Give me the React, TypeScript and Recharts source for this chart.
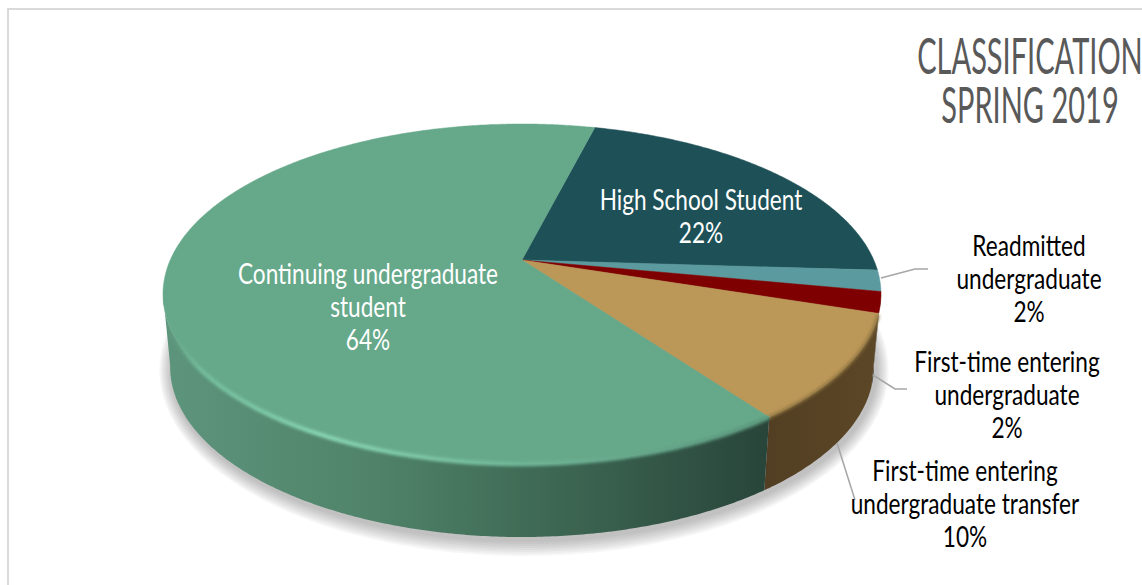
import React from 'react';
import { PieChart, Pie } from 'recharts';

// slices clockwise from the top boundary
const categories = [
  ['High School Student'],
  ['Readmitted', 'undergraduate'],
  ['First-time entering', 'undergraduate'],
  ['First-time entering', 'undergraduate transfer'],
  ['Continuing undergraduate', 'student'],
];
const shares = [22, 2, 2, 10, 64];
const titleLines = ['CLASSIFICATION', 'SPRING 2019'];

const topColors = ['#1e5157', '#5b9a9e', '#7f0000', '#bb9758', '#66a88a'];

const chartData = categories.map((lines, i) => ({
  name: lines.join(' '),
  lines,
  value: shares[i],
  fill: topColors[i],
}));

// pie geometry on the page
const CX = 522;
const CY = 294;
const RX = 359;
const RY = 170;
const PERSPECTIVE = 0.2; // how far the hub sits behind the ellipse centre
const DEPTH = 73;
const BOTTOM_SCALE = 0.98;
const START = 75.7;

const TEXT_FONT = 'Lato, "Open Sans", sans-serif';
const TEXT_SQUEEZE = 0.78;

const labelLayout = [
  { x: 701, y: 210, fill: '#ffffff' },
  { x: 1029, y: 256, fill: '#000000', leader: '881,278 915,269 928,269' },
  { x: 1007, y: 372, fill: '#000000', leader: '873,375 895,389 907,389' },
  { x: 965, y: 481, fill: '#000000', leader: '837,443 855,500' },
  { x: 368, y: 284, fill: '#ffffff' },
];

// rings of the soft shadow, widest first
const shadowRings = [16, 14, 12, 10, 8, 6, 4, 2];

const rad = (deg: number) => (deg * Math.PI) / 180;

// circle angle -> point on the unit ellipse, with the hub pushed back
function warp(deg: number) {
  const u = Math.cos(rad(deg));
  const v = Math.sin(rad(deg));
  const d = 1 + PERSPECTIVE * v;
  return {
    x: (u * Math.sqrt(1 - PERSPECTIVE * PERSPECTIVE)) / d,
    y: (v + PERSPECTIVE) / d,
  };
}

const topPoint = (deg: number) => {
  const p = warp(deg);
  return [CX + RX * p.x, CY - RY * p.y];
};
const bottomPoint = (deg: number) => {
  const p = warp(deg);
  return [CX + RX * BOTTOM_SCALE * p.x, CY + DEPTH - RY * p.y];
};

const fmt = (pts: number[][]) => pts.map((p) => `${p[0].toFixed(1)} ${p[1].toFixed(1)}`).join(' L ');

function anglesBetween(start: number, end: number) {
  const out: number[] = [];
  const step = start > end ? -0.5 : 0.5;
  for (let a = start; step < 0 ? a > end : a < end; a += step) out.push(a);
  out.push(end);
  return out;
}

function Slice(props: any) {
  const { startAngle, endAngle, index, fill } = props;
  const angles = anglesBetween(startAngle, endAngle);
  const top = angles.map(topPoint);
  const hub = [CX, CY - RY * PERSPECTIVE];
  const front = angles.filter((a) => warp(a).y <= 0.01);
  const rim = front.filter((a) => warp(a).y <= -0.12);
  const wallFill = index === 4 ? 'url(#wallGreen)' : index === 3 ? 'url(#wallBrown)' : '#3a3a30';

  return (
    <g>
      {front.length > 1 && (
        <path
          d={`M ${fmt(front.map(topPoint))} L ${fmt(front.slice().reverse().map(bottomPoint))} Z`}
          fill={wallFill}
        />
      )}
      <path d={`M ${fmt([hub, ...top])} Z`} fill={fill} stroke={fill} strokeWidth={0.5} />
      {index === 4 && rim.length > 1 && (
        <path d={`M ${fmt(rim.map(topPoint))}`} fill="none" stroke="url(#rimGreen)" strokeWidth={4.5} filter="url(#soft)" />
      )}
      {index === 3 && rim.length > 1 && (
        <path d={`M ${fmt(rim.map(topPoint))}`} fill="none" stroke="#8f7440" strokeWidth={3} filter="url(#soft)" />
      )}
    </g>
  );
}

function SliceLabel(props: any) {
  const { index } = props;
  const spot = labelLayout[index];
  const row = chartData[index];
  const rows = [...row.lines, `${row.value}%`];
  return (
    <g>
      {spot.leader && <polyline points={spot.leader} fill="none" stroke="#a6a6a6" strokeWidth={1.5} />}
      {rows.map((t, i) => (
        <text
          key={t + i}
          transform={`translate(${spot.x},${spot.y + i * 33}) scale(${TEXT_SQUEEZE},1)`}
          textAnchor="middle"
          fontFamily={TEXT_FONT}
          fontSize={29}
          fill={spot.fill}
        >
          {t}
        </text>
      ))}
    </g>
  );
}

export default function App() {
  return (
    <div style={{ position: 'absolute', left: 0, top: 0, width: 1142, height: 585, background: '#fff', overflow: 'hidden' }}>
      <div
        style={{
          position: 'absolute',
          left: 7,
          top: 8,
          width: 1135,
          height: 577,
          borderLeft: '2px solid #d9d9d9',
          borderTop: '2px solid #d9d9d9',
          boxSizing: 'border-box',
        }}
      />
      {/* soft shadow under the whole pie, in its own svg behind the chart */}
      <svg width={1142} height={585} style={{ position: 'absolute', left: 0, top: 0 }}>
        {shadowRings.map((grow) => (
          <ellipse
            key={grow}
            cx={CX + 2}
            cy={CY + DEPTH + 3}
            rx={RX * BOTTOM_SCALE + grow * 0.8}
            ry={RY + grow}
            fill="#555555"
            opacity={0.055}
          />
        ))}
      </svg>
      <div style={{ position: 'absolute', left: 0, top: 0 }}>
        <PieChart width={1142} height={585} margin={{ top: 0, right: 0, bottom: 0, left: 0 }}>
          <defs>
            <linearGradient id="wallGreen" gradientUnits="userSpaceOnUse" x1={163} y1={0} x2={881} y2={0}>
              <stop offset="0" stopColor="#5d957c" />
              <stop offset="0.3" stopColor="#4f8269" />
              <stop offset="0.52" stopColor="#3f6a55" />
              <stop offset="0.85" stopColor="#28443a" />
            </linearGradient>
            <linearGradient id="wallBrown" gradientUnits="userSpaceOnUse" x1={765} y1={0} x2={881} y2={0}>
              <stop offset="0" stopColor="#523e22" />
              <stop offset="1" stopColor="#5c4727" />
            </linearGradient>
            <linearGradient id="rimGreen" gradientUnits="userSpaceOnUse" x1={163} y1={0} x2={770} y2={0}>
              <stop offset="0" stopColor="#66a88a" stopOpacity={0} />
              <stop offset="0.06" stopColor="#72bb9b" />
              <stop offset="0.27" stopColor="#86d4b2" />
              <stop offset="0.6" stopColor="#6fb597" />
              <stop offset="1" stopColor="#5a957b" />
            </linearGradient>
            <filter id="soft" filterUnits="userSpaceOnUse" x={100} y={200} width={900} height={360}>
              <feGaussianBlur stdDeviation="1.4" />
            </filter>
          </defs>
          <Pie
            data={chartData}
            dataKey="value"
            nameKey="name"
            cx={CX}
            cy={CY}
            outerRadius={RX}
            startAngle={START}
            endAngle={START - 360}
            paddingAngle={0}
            stroke="none"
            shape={Slice}
            label={SliceLabel}
            labelLine={false}
            isAnimationActive={false}
          />
          {titleLines.map((t, i) => (
            <text
              key={t}
              transform={`translate(1030,${74 + i * 49}) scale(0.58,1)`}
              textAnchor="middle"
              fontFamily={TEXT_FONT}
              fontSize={50}
              fill="#595959"
            >
              {t}
            </text>
          ))}
        </PieChart>
      </div>
    </div>
  );
}
